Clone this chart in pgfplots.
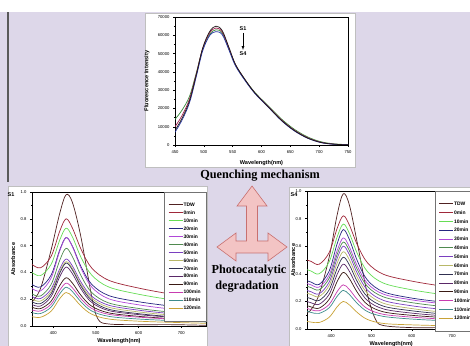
\documentclass[border=0pt]{standalone}
\usepackage{fontspec}
\setmainfont{Liberation Sans}
\newfontfamily\tnr{Liberation Serif}
\usepackage{pgfplots}
\pgfplotsset{compat=1.18}
\definecolor{bg}{RGB}{221,215,233}
\definecolor{arrfill}{RGB}{243,196,196}
\definecolor{arrdraw}{RGB}{200,112,112}
\definecolor{cTDW}{RGB}{80,34,34}
\definecolor{c0}{RGB}{160,40,58}
\definecolor{c10}{RGB}{102,221,85}
\definecolor{c20}{RGB}{38,38,128}
\definecolor{c30}{RGB}{176,72,216}
\definecolor{c40}{RGB}{79,138,79}
\definecolor{c50}{RGB}{122,63,192}
\definecolor{c60}{RGB}{184,184,104}
\definecolor{c70}{RGB}{48,48,80}
\definecolor{c80}{RGB}{90,40,104}
\definecolor{c90}{RGB}{58,26,20}
\definecolor{c100}{RGB}{200,60,176}
\definecolor{c110}{RGB}{62,140,140}
\definecolor{c120}{RGB}{200,162,54}
\definecolor{fS1}{RGB}{32,24,24}
\definecolor{fS2}{RGB}{160,32,80}
\definecolor{fS3}{RGB}{58,138,58}
\definecolor{fS4}{RGB}{32,48,160}
\pgfplotsset{
  myax/.style={scale only axis, axis line style={line width=0.45bp},
    tick style={line width=0.4bp,black}, tick align=outside,
    major tick length=2bp, minor tick length=1.2bp,
    xtick pos=left, ytick pos=left,
    minor x tick num=1, minor y tick num=1,
    tick label style={font=\fontsize{4.2}{5}\selectfont},
    label style={font=\bfseries\fontsize{5.6}{6}\selectfont},
    /pgf/number format/assume math mode=true,
    every axis plot/.append style={line width=0.7bp, smooth, tension=0.55},
    legend image code/.code={\draw[#1] (0bp,0bp) -- (14bp,0bp);},
    legend cell align=left},
  absax/.style={myax, ymin=0, ymax=1, ytick={0,0.2,0.4,0.6,0.8,1.0},
    xtick={400,500,600,700}, xmax=758,
    yticklabel style={/pgf/number format/.cd, fixed, fixed zerofill, precision=1},
    xlabel={Wavelength(nm)}, ylabel={Absorbance}}
}
\begin{document}
\begin{tikzpicture}
\useasboundingbox (0,0) rectangle (470bp,346bp);
\clip (0,0) rectangle (470bp,346bp);
\begin{scope}[x=1bp,y=1bp]
\fill[bg] (0,0) rectangle (470,346);
\fill[white] (0,334) rectangle (470,346);
\fill[black!65] (7.2,164) rectangle (8.8,334);
\filldraw[white,draw=black!25,line width=0.5bp] (145,179) rectangle (355,333);
\filldraw[white,draw=black!25,line width=0.5bp] (8,-2) rectangle (207,160);
\filldraw[white,draw=black!25,line width=0.5bp] (289,-2) rectangle (474,159);
\filldraw[fill=arrfill,draw=arrdraw,line width=0.6bp]
 (252,160) -- (267,140) -- (257.5,140) -- (257.5,105) -- (268,105) -- (268,113) -- (287,99)
 -- (268,85) -- (268,93) -- (236,93) -- (236,85) -- (217,99) -- (236,113) -- (236,105)
 -- (246.5,105) -- (246.5,140) -- (237,140) -- cycle;
\node[font=\tnr\bfseries\fontsize{12.3}{14}\selectfont] at (260,170) {Quenching mechanism};
\node[font=\tnr\bfseries\fontsize{12.3}{14}\selectfont] at (249,75) {Photocatalytic};
\node[font=\tnr\bfseries\fontsize{12.3}{14}\selectfont] at (247,59) {degradation};
\node[font=\bfseries\fontsize{5.5}{6}\selectfont] at (243,317) {S1};
\draw[-{latex}, line width=0.4bp] (243,313) -- (243,296);
\node[font=\bfseries\fontsize{5.5}{6}\selectfont] at (243,292) {S4};
\node[font=\bfseries\fontsize{5.5}{6}\selectfont] at (11,151) {S1};
\node[font=\bfseries\fontsize{5.5}{6}\selectfont] at (294,151) {S4};
\end{scope}

% ---------- top: fluorescence ----------
\begin{axis}[myax, at={(175bp,201bp)}, anchor=south west,
  width=173bp, height=128bp,
  xmin=450, xmax=750, ymin=0, ymax=70000,
  xtick={450,500,...,750}, ytick={0,10000,...,70000},
  scaled y ticks=false,
  yticklabel style={/pgf/number format/.cd, fixed, 1000 sep={}},
  xticklabel style={/pgf/number format/.cd, 1000 sep={}},
  xlabel={Wavelength(nm)}, ylabel={Fluorescence Intensity},
  xlabel style={at={(axis description cs:0.5,-0.14)}, anchor=center},
  ylabel style={at={(axis description cs:-0.162,0.5)}, anchor=center}]
\addplot[fS3] coordinates {(450,14000)(462,19000)(475,26500)(487,39500)(498,52500)(510,60500)(521,63000)(532,61200)(544,52200)(555,43700)(572,35500)(589,28600)(612,21300)(635,14100)(657,8600)(680,4400)(703,1800)(725,650)(750,200)};
\addplot[fS2] coordinates {(450,10000)(462,16000)(475,25000)(487,39000)(498,52800)(510,61300)(521,64000)(532,61800)(544,52500)(555,43800)(572,35400)(589,28300)(612,20900)(635,13600)(657,8100)(680,4000)(703,1500)(725,500)(750,120)};
\addplot[fS4] coordinates {(450,7000)(462,13500)(475,23000)(487,37500)(498,51500)(510,59800)(521,62000)(532,60300)(544,51600)(555,43200)(572,35000)(589,28000)(612,20600)(635,13200)(657,7700)(680,3700)(703,1300)(725,400)(750,80)};
\addplot[fS1] coordinates {(450,8000)(462,14500)(475,24000)(487,38500)(498,53000)(510,62000)(521,65000)(532,62500)(544,53000)(555,44000)(572,35500)(589,28300)(612,20800)(635,13400)(657,7900)(680,3800)(703,1400)(725,450)(750,100)};
\end{axis}

% ---------- bottom left: S1 ----------
\begin{axis}[absax, at={(32bp,20bp)}, anchor=south west,
  width=174bp, height=134bp, xmin=350,
  xlabel style={at={(axis description cs:0.5,-0.112)}, anchor=center},
  ylabel style={at={(axis description cs:-0.109,0.5)}, anchor=center},
  legend style={at={(1,1)}, anchor=north east, draw=black!55, line width=0.4bp,
    fill=white, font=\bfseries\fontsize{5}{5.5}\selectfont,
    inner xsep=4.5bp, inner ysep=10bp, row sep=2.75bp,
    nodes={inner sep=0.6bp, text height=3.6bp, text depth=0.4bp}}]
\addplot[cTDW] coordinates {(350,.18)(370,.28)(395,.57)(415,.84)(430,.98)(445,.92)(465,.66)(490,.22)(505,.05)(530,.015)(600,.01)(680,.01)(760,.005)};
\addlegendentry{TDW}
\addplot[c0] coordinates {(350,.46)(370,.434)(395,.521)(415,.707)(430,.80)(445,.729)(465,.573)(490,.433)(530,.341)(600,.283)(680,.236)(760,.20)};
\addlegendentry{0min}
\addplot[c10] coordinates {(350,.40)(370,.376)(395,.461)(415,.641)(430,.73)(445,.663)(465,.512)(490,.380)(530,.291)(600,.237)(680,.194)(760,.16)};
\addlegendentry{10min}
\addplot[c20] coordinates {(350,.31)(370,.291)(395,.381)(415,.567)(430,.66)(445,.594)(465,.443)(490,.311)(530,.227)(600,.181)(680,.147)(760,.12)};
\addlegendentry{20min}
\addplot[c30] coordinates {(350,.28)(370,.262)(395,.359)(415,.559)(430,.66)(445,.590)(465,.431)(490,.291)(530,.203)(600,.158)(680,.125)(760,.10)};
\addlegendentry{30min}
\addplot[c40] coordinates {(350,.24)(370,.224)(395,.311)(415,.490)(430,.58)(445,.516)(465,.375)(490,.250)(530,.172)(600,.131)(680,.102)(760,.08)};
\addlegendentry{40min}
\addplot[c50] coordinates {(350,.22)(370,.205)(395,.277)(415,.426)(430,.50)(445,.447)(465,.327)(490,.222)(530,.155)(600,.118)(680,.091)(760,.07)};
\addlegendentry{50min}
\addplot[c60] coordinates {(350,.20)(370,.186)(395,.258)(415,.407)(430,.48)(445,.428)(465,.309)(490,.206)(530,.140)(600,.105)(680,.080)(760,.06)};
\addlegendentry{60min}
\addplot[c70] coordinates {(350,.18)(370,.167)(395,.241)(415,.394)(430,.47)(445,.417)(465,.297)(490,.191)(530,.125)(600,.092)(680,.068)(760,.05)};
\addlegendentry{70min}
\addplot[c80] coordinates {(350,.16)(370,.149)(395,.221)(415,.367)(430,.44)(445,.389)(465,.276)(490,.176)(530,.115)(600,.085)(680,.065)(760,.05)};
\addlegendentry{80min}
\addplot[c90] coordinates {(350,.14)(370,.130)(395,.186)(415,.302)(430,.36)(445,.319)(465,.228)(490,.148)(530,.098)(600,.072)(680,.054)(760,.04)};
\addlegendentry{90min}
\addplot[c100] coordinates {(350,.12)(370,.112)(395,.163)(415,.267)(430,.32)(445,.284)(465,.203)(490,.131)(530,.087)(600,.066)(680,.051)(760,.04)};
\addlegendentry{100min}
\addplot[c110] coordinates {(350,.10)(370,.093)(395,.142)(415,.240)(430,.29)(445,.256)(465,.180)(490,.112)(530,.072)(600,.052)(680,.040)(760,.03)};
\addlegendentry{110min}
\addplot[c120] coordinates {(350,.07)(370,.065)(395,.111)(415,.204)(430,.25)(445,.219)(465,.149)(490,.088)(530,.052)(600,.036)(680,.027)(760,.02)};
\addlegendentry{120min}
\end{axis}

% ---------- bottom right: S4 ----------
\begin{axis}[absax, at={(307bp,17bp)}, anchor=south west,
  width=168.5bp, height=138bp, xmin=340,
  xlabel style={at={(axis description cs:0.5,-0.109)}, anchor=center},
  ylabel style={at={(axis description cs:-0.083,0.5)}, anchor=center},
  legend style={at={(1,1)}, anchor=north east, draw=black!55, line width=0.4bp,
    fill=white, font=\bfseries\fontsize{5}{5.5}\selectfont,
    inner xsep=3.5bp, inner ysep=10bp, row sep=3.6bp,
    nodes={inner sep=0.6bp, text height=3.6bp, text depth=0.4bp}}]
\addplot[cTDW] coordinates {(340,.12)(350,.14)(370,.25)(395,.52)(415,.83)(430,.98)(445,.90)(465,.62)(490,.25)(510,.07)(530,.025)(600,.01)(680,.01)(760,.005)};
\addlegendentry{TDW}
\addplot[c0] coordinates {(340,.50)(350,.49)(370,.469)(395,.554)(415,.731)(430,.82)(445,.754)(465,.609)(490,.480)(530,.396)(600,.347)(680,.309)(760,.28)};
\addlegendentry{0min}
\addplot[c10] coordinates {(340,.43)(350,.42)(370,.40)(395,.487)(415,.669)(430,.76)(445,.694)(465,.546)(490,.416)(530,.332)(600,.284)(680,.248)(760,.22)};
\addlegendentry{10min}
\addplot[c20] coordinates {(340,.35)(350,.34)(370,.323)(395,.420)(415,.620)(430,.72)(445,.650)(465,.493)(490,.354)(530,.269)(600,.224)(680,.194)(760,.17)};
\addlegendentry{20min}
\addplot[c30] coordinates {(340,.33)(350,.32)(370,.304)(395,.391)(415,.570)(430,.66)(445,.596)(465,.455)(490,.330)(530,.252)(600,.211)(680,.182)(760,.16)};
\addlegendentry{30min}
\addplot[c40] coordinates {(340,.31)(350,.30)(370,.284)(395,.368)(415,.542)(430,.63)(445,.568)(465,.430)(490,.308)(530,.232)(600,.191)(680,.162)(760,.14)};
\addlegendentry{40min}
\addplot[c50] coordinates {(340,.28)(350,.27)(370,.255)(395,.340)(415,.514)(430,.60)(445,.539)(465,.402)(490,.282)(530,.207)(600,.168)(680,.141)(760,.12)};
\addlegendentry{50min}
\addplot[c60] coordinates {(340,.26)(350,.25)(370,.235)(395,.315)(415,.479)(430,.56)(445,.502)(465,.372)(490,.258)(530,.186)(600,.148)(680,.121)(760,.10)};
\addlegendentry{60min}
\addplot[c70] coordinates {(340,.23)(350,.22)(370,.207)(395,.284)(415,.441)(430,.52)(445,.465)(465,.342)(490,.233)(530,.165)(600,.132)(680,.108)(760,.09)};
\addlegendentry{70min}
\addplot[c80] coordinates {(340,.20)(350,.19)(370,.179)(395,.251)(415,.397)(430,.47)(445,.419)(465,.306)(490,.206)(530,.145)(600,.115)(680,.095)(760,.08)};
\addlegendentry{80min}
\addplot[c90] coordinates {(340,.17)(350,.16)(370,.151)(395,.215)(415,.345)(430,.41)(445,.366)(465,.265)(490,.177)(530,.124)(600,.099)(680,.083)(760,.07)};
\addlegendentry{90min}
\addplot[c100] coordinates {(340,.15)(350,.14)(370,.132)(395,.178)(415,.272)(430,.32)(445,.287)(465,.213)(490,.147)(530,.106)(600,.086)(680,.071)(760,.06)};
\addlegendentry{100min}
\addplot[c110] coordinates {(340,.13)(350,.12)(370,.113)(395,.154)(415,.238)(430,.28)(445,.250)(465,.185)(490,.126)(530,.091)(600,.072)(680,.060)(760,.05)};
\addlegendentry{110min}
\addplot[c120] coordinates {(340,.055)(350,.05)(370,.047)(395,.085)(415,.162)(430,.20)(445,.175)(465,.119)(490,.069)(530,.040)(600,.030)(680,.024)(760,.02)};
\addlegendentry{120min}
\end{axis}
\end{tikzpicture}
\end{document}
